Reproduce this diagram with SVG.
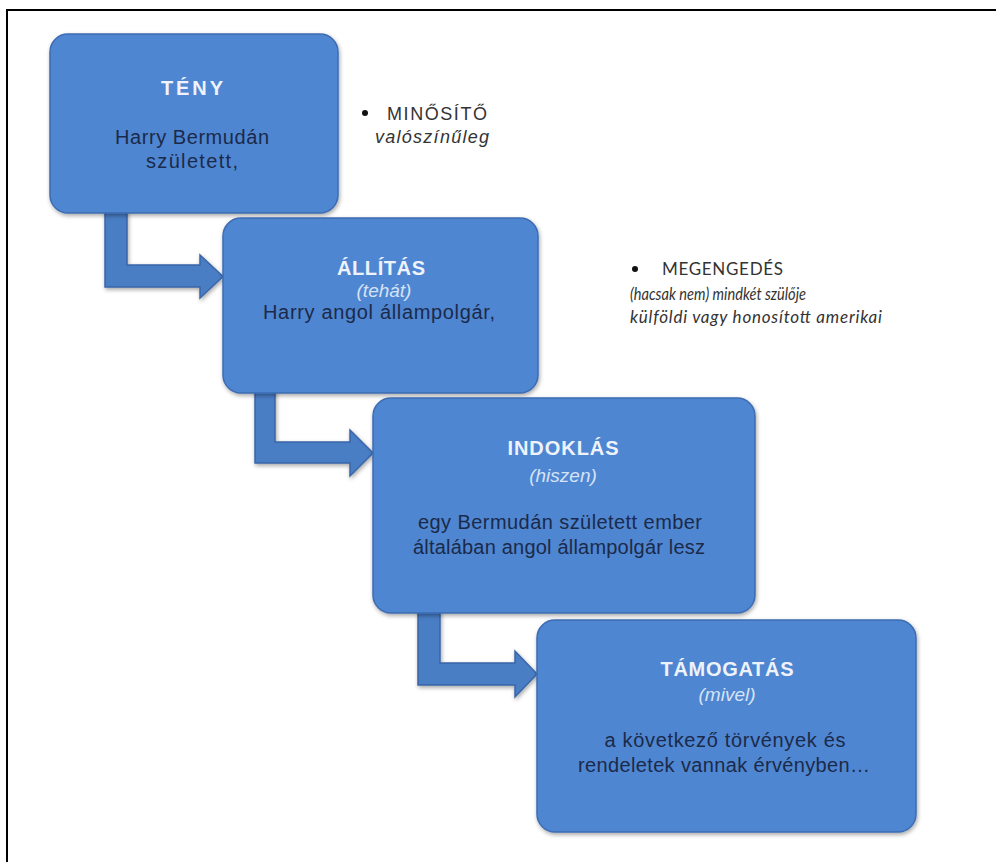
<svg xmlns="http://www.w3.org/2000/svg" width="996" height="862" viewBox="0 0 996 862">
<defs>
<filter id="sh" x="-10%" y="-10%" width="120%" height="125%">
<feDropShadow dx="1" dy="2" stdDeviation="2" flood-color="#000" flood-opacity="0.35"/>
</filter>
<style>
.box{fill:#4F86D1;stroke:#3D6CB2;stroke-width:1.5;filter:url(#sh)}
.arr{fill:#4A7DC4;stroke:#3A66A8;stroke-width:1.5;filter:url(#sh)}
.t{font-family:"Liberation Sans",Arial,sans-serif;font-size:20px;font-weight:bold;fill:#EEF3FB;text-anchor:middle}
.s{font-family:"Liberation Sans",Arial,sans-serif;font-size:19px;font-style:italic;fill:#D6E3F5;text-anchor:middle}
.b{font-family:"Liberation Sans",Arial,sans-serif;font-size:20px;fill:#1B2A4A;text-anchor:middle}
.n{font-family:"Liberation Sans",Arial,sans-serif;font-size:18px;fill:#333}
.ni{font-family:"Liberation Sans",Arial,sans-serif;font-size:18px;font-style:italic;fill:#333}
.c{font-family:Lato,"Open Sans",sans-serif;font-size:17px;fill:#333}
.ci{font-family:Lato,"Open Sans",sans-serif;font-size:17px;font-style:italic;fill:#333}
</style>
</defs>
<rect x="7" y="10" width="1100" height="1000" fill="#fff" stroke="#000" stroke-width="2"/>
<g id="connectors">
<path class="arr" d="M105,210 L127,210 L127,265 L200,265 L200,255 L223,276.5 L200,298 L200,287 L105,287 Z"/>
<path class="arr" d="M255,390 L275,390 L275,442 L350,442 L350,430 L373,453 L350,476 L350,463 L255,463 Z"/>
<path class="arr" d="M418,610 L440,610 L440,663 L515,663 L515,651 L537,674 L515,697 L515,685 L418,685 Z"/>
</g>
<g id="teny">
<rect class="box" x="50" y="34" width="288" height="179" rx="18"/>
<text class="t" x="192" y="95" textLength="62" lengthAdjust="spacing">TÉNY</text>
<text class="b" x="192" y="144" textLength="154" lengthAdjust="spacing">Harry Bermudán</text>
<text class="b" x="192" y="168" textLength="92" lengthAdjust="spacing">született,</text>
</g>
<g id="minosito">
<circle cx="365" cy="113" r="3" fill="#111"/>
<text class="n" x="387" y="120" textLength="100" lengthAdjust="spacing">MINŐSÍTŐ</text>
<text class="ni" x="375" y="143" textLength="114" lengthAdjust="spacing">valószínűleg</text>
</g>
<g id="allitas">
<rect class="box" x="223" y="218" width="315" height="175" rx="18"/>
<text class="t" x="381" y="275" textLength="88" lengthAdjust="spacing">ÁLLÍTÁS</text>
<text class="s" x="384" y="297">(tehát)</text>
<text class="b" x="379" y="319" textLength="232" lengthAdjust="spacing">Harry angol állampolgár,</text>
</g>
<g id="megengedes">
<circle cx="635" cy="269" r="3" fill="#111"/>
<text class="c" x="662" y="275" textLength="121" lengthAdjust="spacing">MEGENGEDÉS</text>
<text class="ci" x="630" y="300" textLength="176" lengthAdjust="spacingAndGlyphs">(hacsak nem) mindkét szülője</text>
<text class="ci" x="630" y="323" textLength="252" lengthAdjust="spacing">külföldi vagy honosított amerikai</text>
</g>
<g id="indoklas">
<rect class="box" x="373" y="398" width="382" height="215" rx="18"/>
<text class="t" x="563" y="455" textLength="111" lengthAdjust="spacing">INDOKLÁS</text>
<text class="s" x="563" y="482">(hiszen)</text>
<text class="b" x="560" y="529" textLength="284" lengthAdjust="spacing">egy Bermudán született ember</text>
<text class="b" x="559" y="554" textLength="292" lengthAdjust="spacing">általában angol állampolgár lesz</text>
</g>
<g id="tamogatas">
<rect class="box" x="537" y="620" width="379" height="212" rx="18"/>
<text class="t" x="727" y="676" textLength="133" lengthAdjust="spacing">TÁMOGATÁS</text>
<text class="s" x="727" y="701">(mivel)</text>
<text class="b" x="725" y="747" textLength="241" lengthAdjust="spacing">a következő törvények és</text>
<text class="b" x="724" y="772" textLength="292" lengthAdjust="spacing">rendeletek vannak érvényben…</text>
</g>
</svg>
